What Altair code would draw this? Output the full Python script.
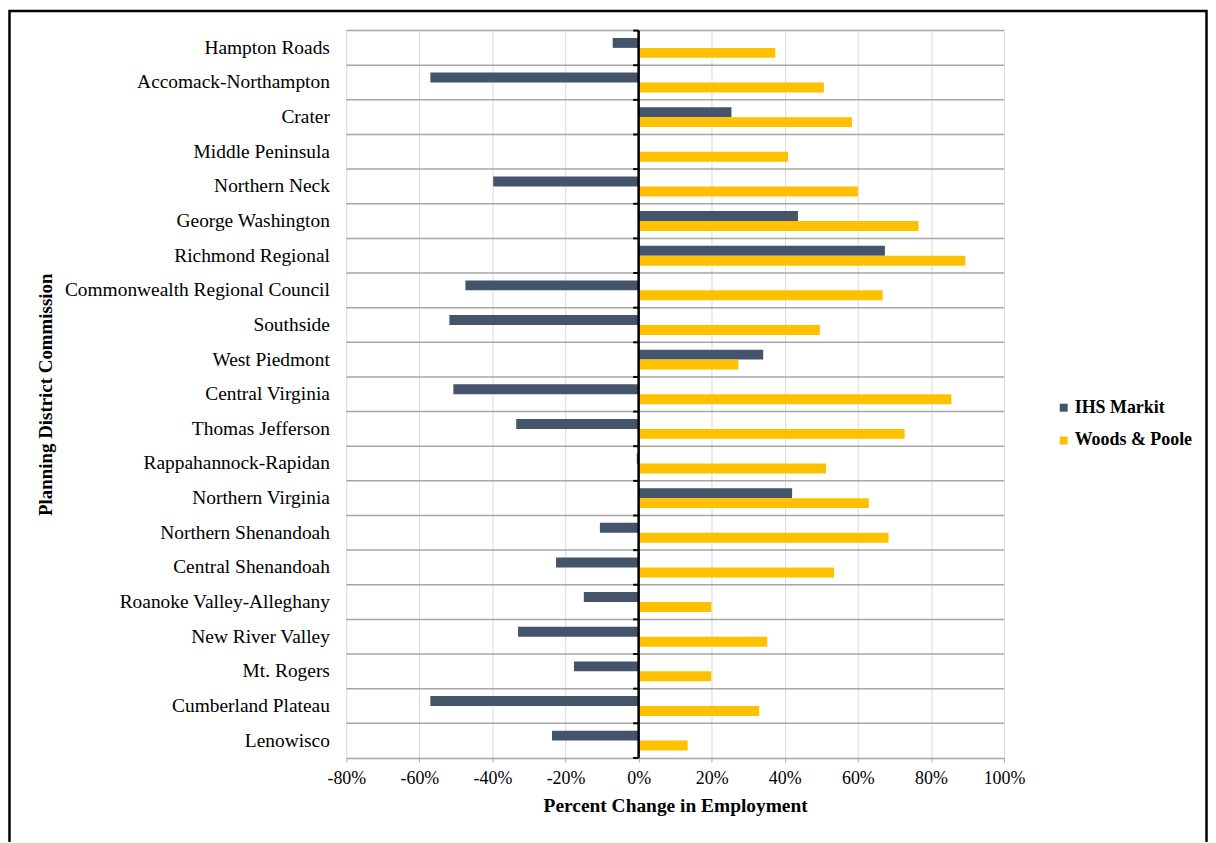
import altair as alt
import pandas as pd

regions = [
    "Hampton Roads", "Accomack-Northampton", "Crater", "Middle Peninsula",
    "Northern Neck", "George Washington", "Richmond Regional",
    "Commonwealth Regional Council", "Southside", "West Piedmont",
    "Central Virginia", "Thomas Jefferson", "Rappahannock-Rapidan",
    "Northern Virginia", "Northern Shenandoah", "Central Shenandoah",
    "Roanoke Valley-Alleghany", "New River Valley", "Mt. Rogers",
    "Cumberland Plateau", "Lenowisco",
]
ihs_markit = [-7.1, -57.0, 25.4, 0.0, -39.8, 43.6, 67.4, -47.4, -51.8, 34.1,
              -50.7, -33.5, -0.5, 42.0, -10.6, -22.6, -15.0, -33.0, -17.7,
              -57.0, -23.7]
woods_poole = [37.4, 50.7, 58.4, 40.9, 60.0, 76.6, 89.4, 66.8, 49.6, 27.3,
               85.6, 72.8, 51.3, 63.0, 68.4, 53.5, 19.9, 35.2, 19.9, 33.0, 13.4]
series = ["IHS Markit", "Woods & Poole"]
colors = ["#44546A", "#FFC000"]
x_ticks = [-0.8, -0.6, -0.4, -0.2, 0.0, 0.2, 0.4, 0.6, 0.8, 1.0]

rows = []
for r, a, b in zip(regions, ihs_markit, woods_poole):
    rows.append({"region": r, "series": series[0], "value": a / 100})
    rows.append({"region": r, "series": series[1], "value": b / 100})
df = pd.DataFrame(rows)
reg_df = pd.DataFrame({"region": regions})
one = pd.DataFrame({"k": [0]})

W, H = 661, 731
FONT = "Liberation Serif"
PADL, PADT = 340, 20.6
SVG_W, SVG_H = 1206, 834

xscale = alt.Scale(domain=[-0.8, 1.0], nice=False, zero=False)
yscale = alt.Scale(domain=regions, paddingInner=0, paddingOuter=0)

bars = alt.Chart(df).mark_bar().encode(
    x=alt.X(
        "value:Q", scale=xscale,
        axis=alt.Axis(
            values=x_ticks, labelExpr="round(datum.value*100) + '%'",
            labelFlush=False, labelOverlap=False,
            grid=True, gridColor="#d9d9d9", gridWidth=1,
            domainColor="#a6a6a6", domainWidth=1.5,
            tickColor="#a6a6a6", tickSize=4, tickWidth=1,
            labelFont=FONT, labelFontSize=18, labelColor="#000000", labelPadding=8,
            title="Percent Change in Employment", titleFont=FONT,
            titleFontSize=19.5, titleFontWeight="bold", titleColor="#000000",
            titlePadding=9,
        ),
    ),
    y=alt.Y(
        "region:N", scale=yscale, sort=regions,
        axis=alt.Axis(
            ticks=False, domain=False, grid=False, labelLimit=0,
            labelFont=FONT, labelFontSize=19.5, labelColor="#000000", labelPadding=17,
            title="Planning District Commission", titleFont=FONT,
            titleFontSize=19, titleFontWeight="bold", titleColor="#000000",
            titleX=-292, titleY=H / 2,
        ),
    ),
    yOffset=alt.YOffset("series:N", sort=series,
                        scale=alt.Scale(domain=series, paddingInner=0, paddingOuter=0.74)),
    color=alt.Color(
        "series:N", scale=alt.Scale(domain=series, range=colors),
        legend=alt.Legend(
            title=None, orient="none", legendX=712, legendY=370, padding=0,
            symbolType="square", symbolSize=64, symbolStrokeWidth=0,
            labelFont=FONT, labelFontSize=18, labelFontWeight="bold",
            labelColor="#000000", rowPadding=15, labelOffset=2,
        ),
    ),
)

separators = alt.Chart(reg_df).mark_rule(color="#a6a6a6", strokeWidth=1.5).encode(
    y=alt.Y("region:N", bandPosition=0, scale=yscale, sort=regions),
    x=alt.value(0),
    x2=alt.value(W),
)

zero_ticks = alt.Chart(reg_df).mark_rule(color="#000000", strokeWidth=2).encode(
    y=alt.Y("region:N", bandPosition=0, scale=yscale, sort=regions),
    x=alt.datum(-0.015),
    x2=alt.datum(0),
)

bottom_tick = alt.Chart(one).mark_rule(color="#000000", strokeWidth=2).encode(
    y=alt.value(H),
    x=alt.datum(-0.015),
    x2=alt.datum(0),
)

zero_line = alt.Chart(one).mark_rule(color="#000000", strokeWidth=2.5).encode(
    x=alt.datum(0),
    y=alt.value(0),
    y2=alt.value(H),
)

frame = alt.Chart(one).mark_rect(fillOpacity=0, stroke="#000000", strokeWidth=2.5).encode(
    x=alt.value(-PADL + 1.5),
    x2=alt.value(SVG_W - PADL - 1.5),
    y=alt.value(-PADT + 1.0),
    y2=alt.value(SVG_H + 50),
)

chart = alt.layer(separators, bars, zero_line, zero_ticks, bottom_tick, frame).properties(
    width=W, height=H,
    autosize=alt.AutoSizeParams(type="none"),
    padding={"left": PADL, "top": PADT, "right": SVG_W - PADL - W,
             "bottom": SVG_H - PADT - H},
    background="white",
).configure_view(stroke=None)

chart.save("out.html", embed_options={"renderer": "svg", "actions": False})
